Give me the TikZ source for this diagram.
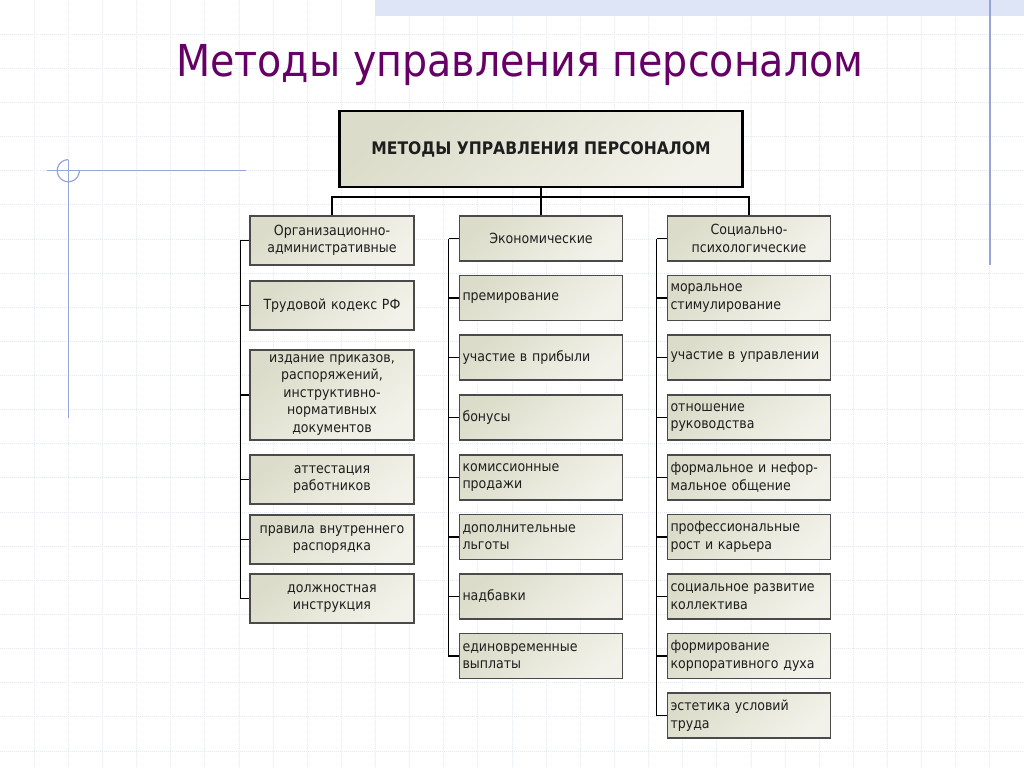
\documentclass[tikz,border=0pt]{standalone}
\usepackage{fontspec}
\setmainfont{DejaVu Sans Condensed}
\usetikzlibrary{calc}
\definecolor{ttl}{HTML}{660066}
\definecolor{gridc}{HTML}{E4E8EF}
\definecolor{deco}{HTML}{97A4D8}
\definecolor{band}{HTML}{DEE5F6}
\definecolor{boxA}{HTML}{DCDCCA}
\definecolor{boxB}{HTML}{F2F2EA}
\definecolor{bord}{HTML}{4A4A4A}
\definecolor{txt}{HTML}{1E1E1E}
\begin{document}
\begin{tikzpicture}[x=1pt,y=-1pt,
  gridline/.style={gridc, line width=0.8pt, dash pattern=on 1pt off 1pt},
  decoline/.style={deco, line width=1.2pt},
  basebox/.style={draw=bord, line width=1.3pt, top color=boxA, bottom color=boxB, shading angle=40, text=txt, font=\fontsize{14}{17.5}\selectfont, inner xsep=3pt, inner ysep=2pt},
  cbox/.style={basebox, text width=158pt, minimum height=49pt, align=center},
  lbox/.style={basebox, text width=157pt, minimum height=45pt, align=left},
  hbox/.style={basebox, text width=157pt, minimum height=45pt, align=center},
  mainbox/.style={draw=black, line width=2.5pt, top color=boxA, bottom color=boxB, shading angle=40, text=txt, minimum width=403pt, minimum height=76pt, font=\fontsize{17.3}{20}\selectfont\bfseries},
  conn/.style={black, line width=1.1pt},
  hconn/.style={black, line width=1.6pt}]
\useasboundingbox (0,0) rectangle (1024,768);
\fill[white] (0,0) rectangle (1024,768);
% grid
\foreach \i in {1,...,29} \draw[gridline] (\i*34.133,0) -- (\i*34.133,768);
\foreach \j in {1,...,22} \draw[gridline] (0,\j*34.133) -- (1024,\j*34.133);
% top band
\fill[band] (375,0) rectangle (1024,16);
% decorations
\draw[decoline] (990,0) -- (990,265);
\draw[decoline] (47,170.7) -- (246,170.7);
\draw[decoline] (68.3,160) -- (68.3,418);
\draw[decoline, domain=90:360, samples=60, smooth] plot ({68.3+11*cos(\x)}, {170.7-11*sin(\x)});
% title
\node[ttl, font=\fontsize{44}{50}\selectfont, anchor=base] (title) at (520,76) {Методы управления персоналом};
% main box
\node[mainbox] (main) at (541,149) {МЕТОДЫ УПРАВЛЕНИЯ ПЕРСОНАЛОМ};
% headers
\node[cbox] (h1) at (332,240.5) {Организационно-\\административные};
\node[hbox] (h2) at (541,238.5) {Экономические};
\node[hbox] (h3) at (749,238.5) {Социально-\\психологические};
% column 1
\node[cbox] (a1) at (332,305.5) {Трудовой кодекс РФ};
\node[cbox, minimum height=90pt] (a2) at (332,395) {издание приказов,\\распоряжений,\\инструктивно-\\нормативных\\документов};
\node[cbox] (a3) at (332,479.5) {аттестация\\работников};
\node[cbox] (a4) at (332,539.5) {правила внутреннего\\распорядка};
\node[cbox] (a5) at (332,598.5) {должностная\\инструкция};
% column 2
\node[lbox] (b1) at (541,298) {премирование};
\node[lbox] (b2) at (541,357.5) {участие в прибыли};
\node[lbox] (b3) at (541,417.5) {бонусы};
\node[lbox] (b4) at (541,477.5) {комиссионные\\продажи};
\node[lbox] (b5) at (541,537) {дополнительные\\льготы};
\node[lbox] (b6) at (541,596.5) {надбавки};
\node[lbox] (b7) at (541,656) {единовременные\\выплаты};
% column 3
\node[lbox] (c1) at (749,298) {моральное\\стимулирование};
\node[lbox] (c2) at (749,357.5) {участие в управлении};
\node[lbox] (c3) at (749,417.5) {отношение\\руководства};
\node[lbox] (c4) at (749,477.5) {формальное и нефор-\\мальное общение};
\node[lbox] (c5) at (749,537) {профессиональные\\рост и карьера};
\node[lbox] (c6) at (749,596.5) {социальное развитие\\коллектива};
\node[lbox] (c7) at (749,656) {формирование\\корпоративного духа};
\node[lbox] (c8) at (749,715.5) {эстетика условий\\труда};
% top connectors
\coordinate (j) at (541,197);
\draw[conn] (main.south) -- (j);
\draw[conn] (h1.north) |- (j) -| (h3.north);
\draw[conn] (j) -- (h2.north);
% column spines
\draw[hconn] (h1.west) -- ++(-9,0);
\draw[conn] ($(h1.west)+(-9,0)$) |- (a5.west);
\foreach \n in {a1,a2,a3,a4} \draw[conn] (\n.west) -- ++(-9,0);
\draw[hconn] (h2.west) -- ++(-10,0);
\draw[conn] ($(h2.west)+(-10,0)$) |- (b7.west);
\foreach \n in {b1,b2,b3,b4,b5,b6} \draw[conn] (\n.west) -- ++(-10,0);
\draw[hconn] (h3.west) -- ++(-10,0);
\draw[conn] ($(h3.west)+(-10,0)$) |- (c8.west);
\foreach \n in {c1,c2,c3,c4,c5,c6,c7} \draw[conn] (\n.west) -- ++(-10,0);
\end{tikzpicture}
\end{document}
